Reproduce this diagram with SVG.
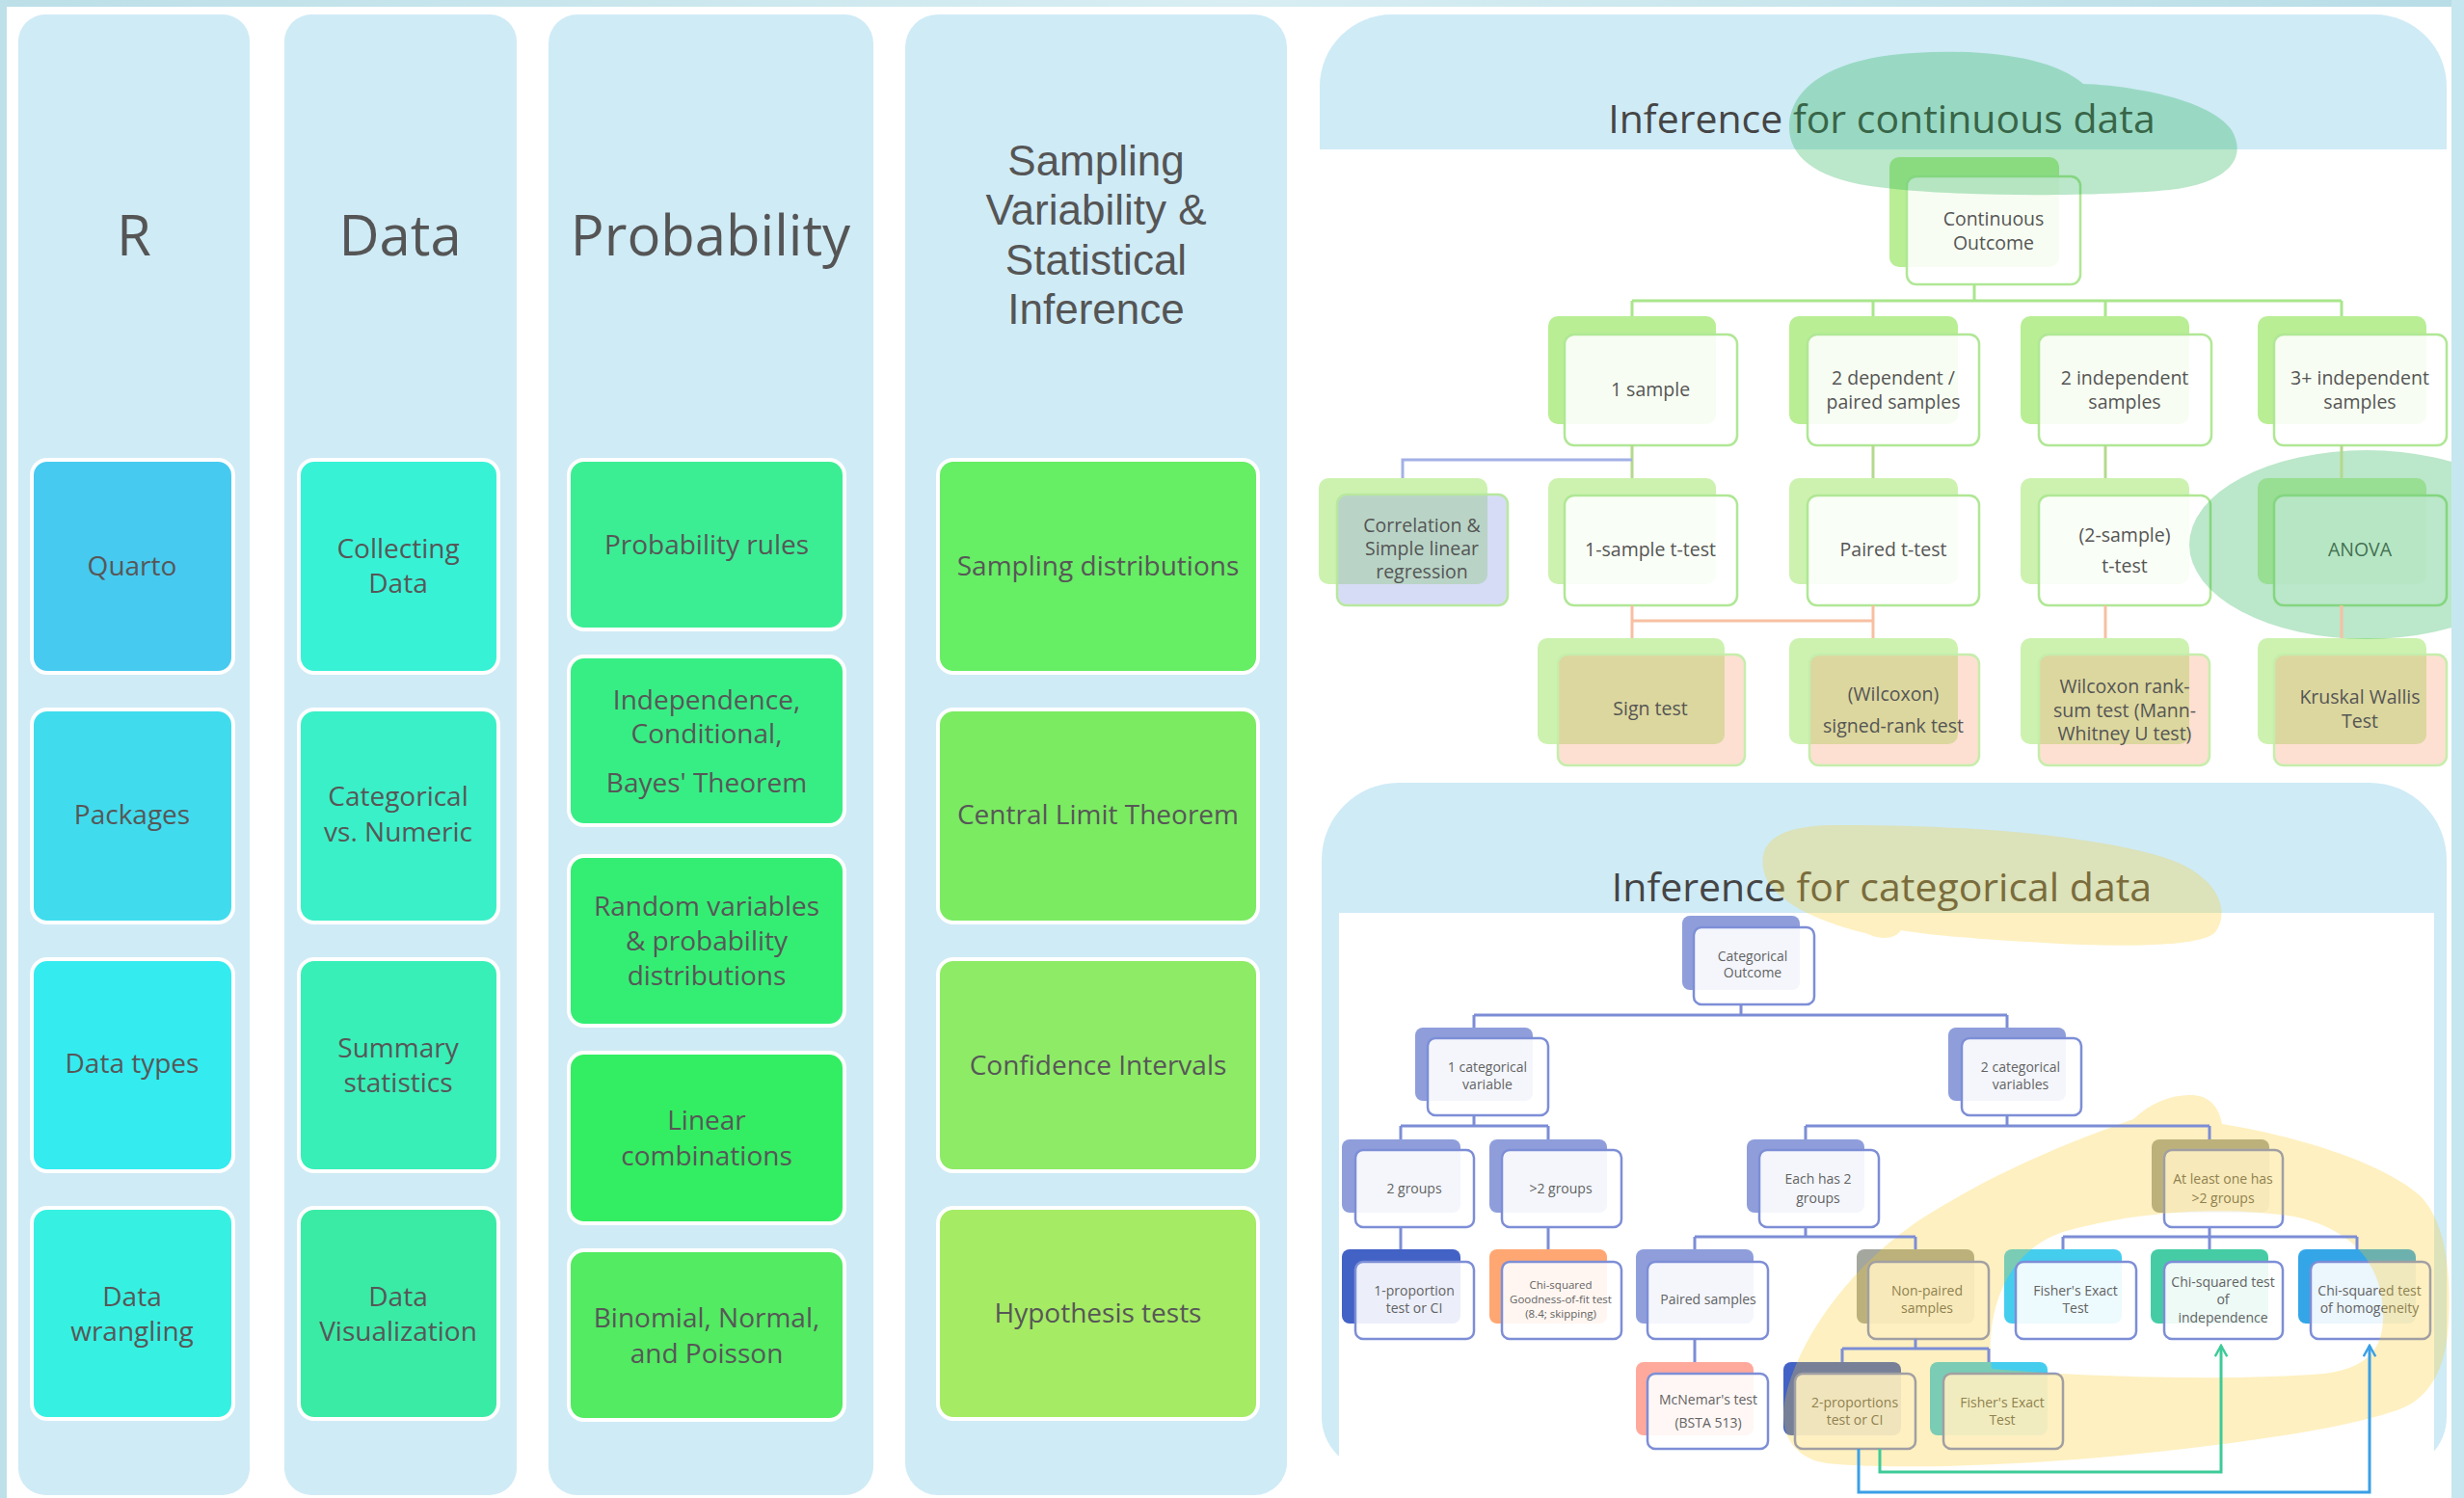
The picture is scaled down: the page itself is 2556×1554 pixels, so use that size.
<svg xmlns="http://www.w3.org/2000/svg" width="2556" height="1554" viewBox="0 0 2556 1554">
<defs>
<style>
text{font-family:'Open Sans','Liberation Sans',sans-serif;text-anchor:middle}
.col{fill:#CFEBF6}
.lb{stroke:#fff;stroke-width:4}
.lt{font-size:28px;fill:#575757}
.ht{font-size:58px;fill:#555}
.st{font-family:'Liberation Sans','Open Sans',sans-serif;font-size:44px;fill:#555}
.pt{font-size:41px;fill:#454545}
.cb1{fill:#B9EE95}
.cb3{fill:#CDF2B0}
.cf{fill:#fff;fill-opacity:.88;stroke:#B0E795;stroke-width:2.5}
.cfp{fill:#F8A77F;fill-opacity:.35;stroke:#C6EDAC;stroke-width:2.5}
.cfl{fill:#9AA8E8;fill-opacity:.4;stroke:#B8E8A0;stroke-width:2.5}
.ct{font-size:19.5px;fill:#555}
.kf{fill:#fff;fill-opacity:.9;stroke:#7D8ED6;stroke-width:2.5}
.kt{font-size:14px;fill:#636363}
.ks{font-size:11.5px;fill:#636363}
.lav{fill:#8F9EDB}
.gry{fill:#A4A79E}
.cyn{fill:#45CDEE}
.blu{fill:#4262C6}
.cn{fill:none;stroke-width:3}
</style>
<linearGradient id="topg" x1="0" x2="1" y1="0" y2="0">
<stop offset="0" stop-color="#BCDFE8"/><stop offset="0.5" stop-color="#D8EEF3"/><stop offset="1" stop-color="#B8DDE7"/>
</linearGradient>
<marker id="arrTeal" viewBox="0 0 12 12" refX="10" refY="6" markerWidth="5" markerHeight="5" orient="auto">
<path d="M1 1 L10 6 L1 11" fill="none" stroke="#3ECB98" stroke-width="2"/>
</marker>
<marker id="arrBlue" viewBox="0 0 12 12" refX="10" refY="6" markerWidth="5" markerHeight="5" orient="auto">
<path d="M1 1 L10 6 L1 11" fill="none" stroke="#3B9FE6" stroke-width="2"/>
</marker>
</defs>

<rect x="0" y="0" width="2556" height="1554" fill="#fff"/>

<!-- Columns -->
<g id="col-R">
<rect class="col" x="19" y="15" width="240" height="1536" rx="28"/>
<text class="ht" x="139" y="265">R</text>
</g>
<g id="col-Data">
<rect class="col" x="295" y="15" width="241" height="1536" rx="28"/>
<text class="ht" x="415" y="265">Data</text>
</g>
<g id="col-Probability">
<rect class="col" x="569" y="15" width="337" height="1536" rx="30"/>
<text class="ht" x="737" y="265">Probability</text>
</g>
<g id="col-Sampling">
<rect class="col" x="939" y="15" width="396" height="1536" rx="34"/>
<text class="st" x="1137" y="182">Sampling</text>
<text class="st" x="1137" y="233">Variability &amp;</text>
<text class="st" x="1137" y="285">Statistical</text>
<text class="st" x="1137" y="336">Inference</text>
</g>

<!-- R nodes -->
<g id="n-quarto"><rect class="lb" x="33" y="477" width="209" height="221" rx="16" fill="#47CAF0"/><text class="lt" x="137" y="597">Quarto</text></g>
<g id="n-packages"><rect class="lb" x="33" y="736" width="209" height="221" rx="16" fill="#40DCEE"/><text class="lt" x="137" y="855">Packages</text></g>
<g id="n-datatypes"><rect class="lb" x="33" y="995" width="209" height="220" rx="16" fill="#34EBF0"/><text class="lt" x="137" y="1113">Data types</text></g>
<g id="n-wrangling"><rect class="lb" x="33" y="1253" width="209" height="219" rx="16" fill="#36F1E2"/><text class="lt" x="137" y="1355">Data</text><text class="lt" x="137" y="1391">wrangling</text></g>

<!-- Data nodes -->
<g id="n-collecting"><rect class="lb" x="310" y="477" width="207" height="221" rx="16" fill="#38F2D6"/><text class="lt" x="413" y="579">Collecting</text><text class="lt" x="413" y="615">Data</text></g>
<g id="n-catnum"><rect class="lb" x="310" y="736" width="207" height="221" rx="16" fill="#3AF0C8"/><text class="lt" x="413" y="836">Categorical</text><text class="lt" x="413" y="873">vs. Numeric</text></g>
<g id="n-summary"><rect class="lb" x="310" y="995" width="207" height="220" rx="16" fill="#38EFB8"/><text class="lt" x="413" y="1097">Summary</text><text class="lt" x="413" y="1133">statistics</text></g>
<g id="n-dataviz"><rect class="lb" x="310" y="1253" width="207" height="219" rx="16" fill="#3AEBA6"/><text class="lt" x="413" y="1355">Data</text><text class="lt" x="413" y="1391">Visualization</text></g>

<!-- Probability nodes -->
<g id="n-probrules"><rect class="lb" x="590" y="477" width="286" height="176" rx="16" fill="#3BEE94"/><text class="lt" x="733" y="575">Probability rules</text></g>
<g id="n-indep"><rect class="lb" x="590" y="681" width="286" height="175" rx="16" fill="#37EE85"/><text class="lt" x="733" y="736">Independence,</text><text class="lt" x="733" y="771">Conditional,</text><text class="lt" x="733" y="822">Bayes' Theorem</text></g>
<g id="n-randvar"><rect class="lb" x="590" y="888" width="286" height="176" rx="16" fill="#34EE74"/><text class="lt" x="733" y="950">Random variables</text><text class="lt" x="733" y="986">&amp; probability</text><text class="lt" x="733" y="1022">distributions</text></g>
<g id="n-linear"><rect class="lb" x="590" y="1092" width="286" height="177" rx="16" fill="#33EE62"/><text class="lt" x="733" y="1172">Linear</text><text class="lt" x="733" y="1209">combinations</text></g>
<g id="n-binomial"><rect class="lb" x="590" y="1297" width="286" height="176" rx="16" fill="#52EB62"/><text class="lt" x="733" y="1377">Binomial, Normal,</text><text class="lt" x="733" y="1414">and Poisson</text></g>

<!-- Sampling nodes -->
<g id="n-samplingdist"><rect class="lb" x="973" y="477" width="332" height="221" rx="16" fill="#66EE64"/><text class="lt" x="1139" y="597">Sampling distributions</text></g>
<g id="n-clt"><rect class="lb" x="973" y="736" width="332" height="221" rx="16" fill="#7BEB62"/><text class="lt" x="1139" y="855">Central Limit Theorem</text></g>
<g id="n-ci"><rect class="lb" x="973" y="995" width="332" height="220" rx="16" fill="#8DEB66"/><text class="lt" x="1139" y="1115">Confidence Intervals</text></g>
<g id="n-hyp"><rect class="lb" x="973" y="1253" width="332" height="219" rx="16" fill="#A5EB64"/><text class="lt" x="1139" y="1372">Hypothesis tests</text></g>

<!-- Continuous panel -->
<g id="panel-continuous">
<path d="M1369 155 V90 A75 75 0 0 1 1444 15 H2463 A75 75 0 0 1 2538 90 V155 Z" fill="#CFEBF6"/>
<text class="pt" x="1952" y="138">Inference for continuous data</text>
</g>

<g id="c-outcome"><rect class="cb1" x="1960" y="163" width="176" height="114" rx="10"/><rect class="cf" x="1978" y="183" width="180" height="112" rx="10"/><text class="ct" x="2068" y="234">Continuous</text><text class="ct" x="2068" y="259">Outcome</text></g>
<g id="c-1sample"><rect class="cb1" x="1606" y="328" width="174" height="112" rx="10"/><rect class="cf" x="1623" y="347" width="179" height="115" rx="10"/><text class="ct" x="1712" y="411">1 sample</text></g>
<g id="c-2dep"><rect class="cb1" x="1856" y="328" width="175" height="112" rx="10"/><rect class="cf" x="1875" y="347" width="178" height="115" rx="10"/><text class="ct" x="1964" y="399">2 dependent /</text><text class="ct" x="1964" y="424">paired samples</text></g>
<g id="c-2indep"><rect class="cb1" x="2096" y="328" width="175" height="112" rx="10"/><rect class="cf" x="2115" y="347" width="179" height="115" rx="10"/><text class="ct" x="2204" y="399">2 independent</text><text class="ct" x="2204" y="424">samples</text></g>
<g id="c-3indep"><rect class="cb1" x="2342" y="328" width="175" height="112" rx="10"/><rect class="cf" x="2359" y="347" width="179" height="115" rx="10"/><text class="ct" x="2448" y="399">3+ independent</text><text class="ct" x="2448" y="424">samples</text></g>

<g id="c-corr"><rect class="cb3" x="1368" y="496" width="175" height="110" rx="10"/><rect class="cfl" x="1387" y="513" width="177" height="115" rx="10"/><text class="ct" x="1475" y="552">Correlation &amp;</text><text class="ct" x="1475" y="576">Simple linear</text><text class="ct" x="1475" y="600">regression</text></g>
<g id="c-1ttest"><rect class="cb3" x="1606" y="496" width="174" height="110" rx="10"/><rect class="cf" x="1623" y="514" width="179" height="114" rx="10"/><text class="ct" x="1712" y="577">1-sample t-test</text></g>
<g id="c-pairedt"><rect class="cb3" x="1856" y="496" width="175" height="110" rx="10"/><rect class="cf" x="1875" y="514" width="178" height="114" rx="10"/><text class="ct" x="1964" y="577">Paired t-test</text></g>
<g id="c-2ttest"><rect class="cb3" x="2096" y="496" width="175" height="110" rx="10"/><rect class="cf" x="2115" y="514" width="178" height="114" rx="10"/><text class="ct" x="2204" y="562">(2-sample)</text><text class="ct" x="2204" y="594">t-test</text></g>
<g id="c-anova"><rect class="cb3" x="2342" y="496" width="175" height="110" rx="10"/><rect class="cf" x="2359" y="514" width="179" height="114" rx="10"/><text class="ct" x="2448" y="577">ANOVA</text></g>

<g id="c-sign"><rect class="cb3" x="1595" y="662" width="194" height="110" rx="10"/><rect class="cfp" x="1616" y="679" width="194" height="115" rx="10"/><text class="ct" x="1712" y="742">Sign test</text></g>
<g id="c-wilcox"><rect class="cb3" x="1856" y="662" width="175" height="110" rx="10"/><rect class="cfp" x="1877" y="679" width="176" height="115" rx="10"/><text class="ct" x="1964" y="727">(Wilcoxon)</text><text class="ct" x="1964" y="760">signed-rank test</text></g>
<g id="c-ranksum"><rect class="cb3" x="2096" y="662" width="175" height="110" rx="10"/><rect class="cfp" x="2115" y="679" width="177" height="115" rx="10"/><text class="ct" x="2204" y="719">Wilcoxon rank-</text><text class="ct" x="2204" y="744">sum test (Mann-</text><text class="ct" x="2204" y="768">Whitney U test)</text></g>
<g id="c-kruskal"><rect class="cb3" x="2342" y="662" width="175" height="110" rx="10"/><rect class="cfp" x="2359" y="679" width="179" height="115" rx="10"/><text class="ct" x="2448" y="730">Kruskal Wallis</text><text class="ct" x="2448" y="755">Test</text></g>

<!-- Categorical panel -->
<g id="panel-categorical">
<path d="M1371 892 A80 80 0 0 1 1451 812 H2458 A80 80 0 0 1 2538 892 V1470 A55 55 0 0 1 2483 1525 H1426 A55 55 0 0 1 1371 1470 Z" fill="#CFEBF6"/>
<rect x="1389" y="947" width="1136" height="607" fill="#fff"/>
<text class="pt" x="1952" y="935">Inference for categorical data</text>
</g>

<g id="k-outcome"><rect class="lav" x="1745" y="950" width="122" height="77" rx="8"/><rect class="kf" x="1757" y="962" width="125" height="80" rx="8"/><text class="kt" x="1818" y="997">Categorical</text><text class="kt" x="1818" y="1014">Outcome</text></g>
<g id="k-1cat"><rect class="lav" x="1468" y="1066" width="122" height="76" rx="8"/><rect class="kf" x="1481" y="1077" width="125" height="80" rx="8"/><text class="kt" x="1543" y="1112">1 categorical</text><text class="kt" x="1543" y="1130">variable</text></g>
<g id="k-2cat"><rect class="lav" x="2021" y="1066" width="122" height="76" rx="8"/><rect class="kf" x="2035" y="1077" width="124" height="80" rx="8"/><text class="kt" x="2096" y="1112">2 categorical</text><text class="kt" x="2096" y="1130">variables</text></g>

<g id="k-2groups"><rect class="lav" x="1392" y="1182" width="123" height="76" rx="8"/><rect class="kf" x="1406" y="1193" width="123" height="80" rx="8"/><text class="kt" x="1467" y="1238">2 groups</text></g>
<g id="k-gt2groups"><rect class="lav" x="1545" y="1182" width="122" height="76" rx="8"/><rect class="kf" x="1558" y="1193" width="124" height="80" rx="8"/><text class="kt" x="1619" y="1238">&gt;2 groups</text></g>
<g id="k-each2"><rect class="lav" x="1812" y="1182" width="122" height="76" rx="8"/><rect class="kf" x="1825" y="1193" width="124" height="80" rx="8"/><text class="kt" x="1886" y="1228">Each has 2</text><text class="kt" x="1886" y="1248">groups</text></g>
<g id="k-atleast"><rect class="gry" x="2232" y="1182" width="122" height="76" rx="8"/><rect class="kf" x="2245" y="1193" width="123" height="80" rx="8"/><text class="kt" x="2306" y="1228">At least one has</text><text class="kt" x="2306" y="1248">&gt;2 groups</text></g>

<g id="k-1prop"><rect class="blu" x="1392" y="1296" width="123" height="77" rx="8"/><rect class="kf" x="1406" y="1309" width="123" height="80" rx="8"/><text class="kt" x="1467" y="1344">1-proportion</text><text class="kt" x="1467" y="1362">test or CI</text></g>
<g id="k-gof"><rect x="1545" y="1296" width="122" height="77" rx="8" fill="#FFA772"/><rect class="kf" x="1558" y="1309" width="124" height="80" rx="8"/><text class="ks" x="1619" y="1337">Chi-squared</text><text class="ks" x="1619" y="1352">Goodness-of-fit test</text><text class="ks" x="1619" y="1367">(8.4; skipping)</text></g>
<g id="k-paired"><rect class="lav" x="1697" y="1296" width="122" height="77" rx="8"/><rect class="kf" x="1709" y="1309" width="125" height="80" rx="8"/><text class="kt" x="1772" y="1353">Paired samples</text></g>
<g id="k-nonpaired"><rect class="gry" x="1926" y="1296" width="122" height="77" rx="8"/><rect class="kf" x="1938" y="1309" width="125" height="80" rx="8"/><text class="kt" x="1999" y="1344">Non-paired</text><text class="kt" x="1999" y="1362">samples</text></g>
<g id="k-fisher1"><rect class="cyn" x="2079" y="1296" width="122" height="77" rx="8"/><rect class="kf" x="2091" y="1309" width="125" height="80" rx="8"/><text class="kt" x="2153" y="1344">Fisher's Exact</text><text class="kt" x="2153" y="1362">Test</text></g>
<g id="k-chiindep"><rect x="2231" y="1296" width="122" height="77" rx="8" fill="#45CCA5"/><rect class="kf" x="2245" y="1309" width="123" height="80" rx="8"/><text class="kt" x="2306" y="1335">Chi-squared test</text><text class="kt" x="2306" y="1353">of</text><text class="kt" x="2306" y="1372">independence</text></g>
<g id="k-chihomog"><rect x="2384" y="1296" width="122" height="77" rx="8" fill="#34A6E8"/><rect class="kf" x="2397" y="1309" width="124" height="80" rx="8"/><text class="kt" x="2458" y="1344">Chi-squared test</text><text class="kt" x="2458" y="1362">of homogeneity</text></g>

<g id="k-mcnemar"><rect x="1697" y="1413" width="122" height="76" rx="8" fill="#FFA99D"/><rect class="kf" x="1709" y="1425" width="125" height="78" rx="8"/><text class="kt" x="1772" y="1457">McNemar's test</text><text class="kt" x="1772" y="1481">(BSTA 513)</text></g>
<g id="k-2prop"><rect class="blu" x="1850" y="1413" width="122" height="76" rx="8"/><rect class="kf" x="1862" y="1425" width="125" height="78" rx="8"/><text class="kt" x="1924" y="1460">2-proportions</text><text class="kt" x="1924" y="1478">test or CI</text></g>
<g id="k-fisher2"><rect class="cyn" x="2002" y="1413" width="122" height="76" rx="8"/><rect class="kf" x="2016" y="1425" width="124" height="78" rx="8"/><text class="kt" x="2077" y="1460">Fisher's Exact</text><text class="kt" x="2077" y="1478">Test</text></g>

<!-- Highlights -->
<g id="highlights">
<path d="M2161 87 C2200 88 2290 100 2315 135 C2335 170 2300 192 2250 197 C2180 204 2020 205 1940 193 C1880 184 1855 160 1856 130 C1858 90 1900 60 1985 55 C2060 50 2130 60 2161 87 Z" fill="#1DB050" fill-opacity="0.3"/>
<ellipse cx="2455" cy="565" rx="184" ry="98" fill="#1DB050" fill-opacity="0.3"/>
<path d="M1829 900 C1825 870 1850 857 1900 856 C2000 855 2150 862 2240 888 C2300 905 2315 945 2298 967 C2285 982 2200 983 2120 978 C2060 975 2000 970 1972 965 C1965 975 1950 975 1935 968 C1880 955 1832 930 1829 900 Z" fill="#FCCB26" fill-opacity="0.29"/>
<path fill-rule="evenodd" d="M2213 1161 C2235 1140 2265 1132 2285 1138 C2298 1143 2303 1155 2305 1166 C2380 1178 2470 1205 2510 1240 C2540 1270 2542 1330 2540 1370 C2538 1420 2520 1455 2480 1465 C2420 1485 2300 1500 2200 1510 C2100 1520 1960 1525 1895 1518 C1855 1512 1845 1480 1852 1450 C1865 1390 1920 1310 2000 1260 C2080 1210 2160 1180 2213 1161 Z M2066 1420 C2060 1370 2075 1300 2140 1278 C2210 1258 2300 1250 2380 1262 C2440 1275 2470 1310 2472 1360 C2474 1400 2455 1420 2410 1425 C2330 1432 2180 1430 2066 1420 Z" fill="#FCCB26" fill-opacity="0.29"/>
</g>

<!-- Connectors -->
<g id="connectors">
<path class="cn" stroke="#A9E68C" d="M2048 295 V312 M1693 312 H2429 M1693 312 V328 M1943 312 V328 M2184 312 V328 M2429 312 V328"/>
<path class="cn" stroke="#B4D98E" d="M1693 462 V496 M1943 462 V496 M2184 462 V496 M2429 462 V496"/>
<path class="cn" stroke="#A3B0E6" d="M1693 477 H1455 V496"/>
<path class="cn" stroke="#F8BFA2" d="M1693 628 V662 M1943 628 V662 M1693 644 H1943 M2184 628 V662 M2429 628 V662"/>
<path class="cn" stroke="#7C8DD6" stroke-width="2.5" d="M1806 1042 V1053 M1529 1053 H2082 M1529 1053 V1066 M2082 1053 V1066 M1529 1157 V1168 M1453 1168 H1606 M1453 1168 V1182 M1606 1168 V1182 M2082 1157 V1168 M1873 1168 H2292 M1873 1168 V1182 M2292 1168 V1182 M1453 1273 V1296 M1606 1273 V1296 M1873 1273 V1283 M1758 1283 H1987 M1758 1283 V1296 M1987 1283 V1296 M2292 1273 V1283 M2140 1283 H2445 M2140 1283 V1296 M2292 1283 V1296 M2445 1283 V1296 M1758 1389 V1413 M1987 1389 V1399 M1911 1399 H2063 M1911 1399 V1413 M2063 1399 V1413"/>
<path class="cn" stroke="#3ECB98" stroke-width="3.5" d="M1950 1503 V1527 H2304 V1396" marker-end="url(#arrTeal)"/>
<path class="cn" stroke="#3B9FE6" stroke-width="3.5" d="M1928 1503 V1548 H2458 V1396" marker-end="url(#arrBlue)"/>
</g>

<!-- Frame -->
<g id="frame">
<rect x="0" y="0" width="2556" height="7" fill="url(#topg)"/>
<rect x="0" y="0" width="7" height="1554" fill="#BEE0E9"/>
<rect x="2543" y="0" width="13" height="1554" fill="#C6E7EF"/>
</g>
</svg>
